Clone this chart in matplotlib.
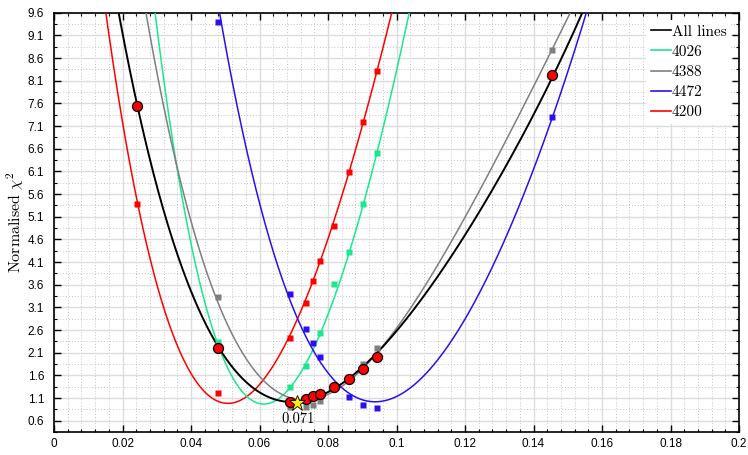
import numpy as np
import matplotlib
matplotlib.use("Agg")
import matplotlib.pyplot as plt
from matplotlib.ticker import MultipleLocator, FixedLocator
from matplotlib.lines import Line2D

plt.rcParams['mathtext.fontset'] = 'cm'

nan = np.nan
# shared abscissae of the sampled points
xs = [0.0242, 0.0479, 0.069, 0.0735, 0.0755, 0.0777, 0.0818, 0.0861, 0.0901, 0.0944, 0.1454]
all_pts = [7.54, 2.20, 1.01, 1.08, 1.14, 1.195, 1.35, 1.52, 1.75, 2.00, 8.23]
red_pts = [5.38, 1.21, 2.43, 3.19, 3.675, 4.12, 4.89, 6.09, 7.19, 8.31, nan]
green_pts = [nan, 2.34, 1.34, 1.80, nan, 2.53, 3.61, 4.32, 5.37, 6.50, nan]
gray_pts = [nan, 3.33, 0.895, 0.895, 0.95, 1.03, nan, nan, 1.857, 2.20, 8.78]
blue_pts = [nan, 9.39, 3.39, 2.63, 2.32, 2.00, nan, 1.12, 0.946, 0.88, 7.30]

# fitted curves: anchor points
all_cx = [0.019] + xs + [0.1545]
all_cy = [9.6] + all_pts + [9.6]
red_cx = [0.0152, 0.0242, 0.0368, 0.0509, 0.069, 0.0777, 0.0901, 0.0987]
red_cy = [9.6, 5.38, 2.18, 1.01, 2.43, 4.12, 7.19, 9.6]
green_cx = [0.0295, 0.0368, 0.0402, 0.0611, 0.069, 0.0735, 0.0777, 0.0901, 0.0944, 0.1037]
green_cy = [9.6, 5.84, 4.37, 1.0, 1.34, 1.80, 2.53, 5.37, 6.50, 9.6]
gray_cx = [0.0269, 0.0348, 0.0417, 0.0479, 0.072, 0.0944, 0.1454, 0.1507]
gray_cy = [9.6, 6.57, 4.37, 3.4, 1.0, 2.12, 8.78, 9.6]
blue_cx = [0.0485, 0.0577, 0.069, 0.0816, 0.0942, 0.1078, 0.1182, 0.1454, 0.1555]
blue_cy = [9.6, 5.91, 3.39, 1.50, 1.0, 1.57, 2.6, 7.30, 9.6]

best_x = 0.071
best_y = 1.0
best_label = "0.071"

series_labels = ["All lines", "4026", "4388", "4472", "4200"]
xtick_vals = [0, 0.02, 0.04, 0.06, 0.08, 0.1, 0.12, 0.14, 0.16, 0.18, 0.2]
xtick_labels = ["0", "0.02", "0.04", "0.06", "0.08", "0.1", "0.12", "0.14", "0.16", "0.18", "0.2"]
ytick_vals = [0.6, 1.1, 1.6, 2.1, 2.6, 3.1, 3.6, 4.1, 4.6, 5.1, 5.6, 6.1, 6.6, 7.1, 7.6, 8.1, 8.6, 9.1, 9.6]
ytick_labels = ["0.6", "1.1", "1.6", "2.1", "2.6", "3.1", "3.6", "4.1", "4.6", "5.1", "5.6",
                "6.1", "6.6", "7.1", "7.6", "8.1", "8.6", "9.1", "9.6"]

C_ALL = 'black'
C_GREEN = '#19e890'
C_GRAY = '#7f7f7f'
C_BLUE = '#2a10f0'
C_RED = '#ff0000'

fig = plt.figure(figsize=(7.48, 4.55), dpi=100)
ax = fig.add_axes([0.0722, 0.0505, 0.9158, 0.9215])

def curve(cx, cy, deg=4):
    p = np.polyfit(cx, cy, deg)
    xx = np.linspace(min(cx) - 0.002, max(cx) + 0.002, 600)
    return xx, np.polyval(p, xx)

for cx, cy, c, lw in [(red_cx, red_cy, C_RED, 1.1), (green_cx, green_cy, C_GREEN, 1.1),
                      (gray_cx, gray_cy, C_GRAY, 1.1), (blue_cx, blue_cy, C_BLUE, 1.1),
                      (all_cx, all_cy, C_ALL, 1.4)]:
    xx, yy = curve(cx, cy)
    ax.plot(xx, yy, color=c, lw=lw, zorder=3)

for pts, c in [(green_pts, C_GREEN), (gray_pts, C_GRAY), (red_pts, C_RED), (blue_pts, C_BLUE)]:
    ax.plot(xs, pts, ls='none', marker='s', ms=4.8, color=c, mec='none', zorder=4)

ax.plot(xs, all_pts, ls='none', marker='o', ms=7.2, mfc='#ff0000', mec='black', mew=0.9, zorder=5)
ax.plot([best_x], [best_y], ls='none', marker='*', ms=12, mfc='#ffee00', mec='black', mew=0.6, zorder=6)
ax.text(best_x + 0.0003, best_y - 0.22, best_label, family='cmr10', fontsize=10.5, ha='center', va='top', zorder=6)

ax.set_xlim(0, 0.2)
ax.set_ylim(0.35, 9.6)
ax.xaxis.set_major_locator(FixedLocator(xtick_vals))
ax.set_xticklabels(xtick_labels)
ax.xaxis.set_minor_locator(MultipleLocator(0.004))
ax.yaxis.set_major_locator(FixedLocator(ytick_vals))
ax.set_yticklabels(ytick_labels)
ax.yaxis.set_minor_locator(FixedLocator(np.arange(0.35, 9.61, 0.25)))

ax.grid(which='major', color='#dcdcdc', lw=1.0, ls='-', zorder=0)
ax.grid(which='minor', color='#c4c4c4', lw=0.7, ls=(0, (1, 2)), zorder=0)
ax.set_axisbelow(True)

ax.tick_params(which='both', direction='in', top=True, right=True, colors='black')
ax.tick_params(which='major', length=5, width=1.0, labelsize=8.5)
ax.tick_params(axis='x', which='major', pad=4)
ax.tick_params(axis='y', which='major', pad=7)
ax.tick_params(which='minor', length=2.5, width=0.8)
for lab in ax.get_xticklabels() + ax.get_yticklabels():
    lab.set_family('Liberation Sans')
for s in ax.spines.values():
    s.set_linewidth(1.2)

ax.set_ylabel(r'$\mathrm{Normalised}\ \chi^2$', fontsize=11.5)
ax.yaxis.set_label_coords(-0.041, 0.5)

handles = [Line2D([], [], color=c, lw=1.2) for c in [C_ALL, C_GREEN, C_GRAY, C_BLUE, C_RED]]
leg = ax.legend(handles, series_labels, loc='upper right', prop={'family': 'cmr10', 'size': 11},
                frameon=True, fancybox=False, framealpha=1, edgecolor='none', facecolor='white',
                handlelength=1.35, handletextpad=0.05, labelspacing=0.42, borderaxespad=0.5,
                borderpad=0.3)
leg.set_zorder(7)

fig.savefig('out.png', dpi=100)
